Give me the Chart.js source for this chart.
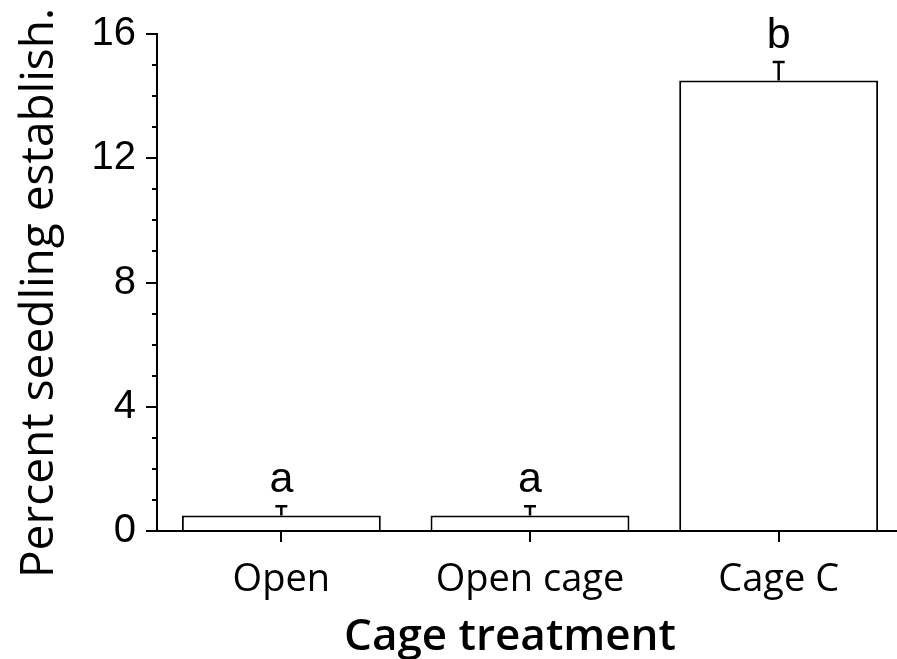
<!DOCTYPE html>
<html>
<head>
<meta charset="utf-8">
<script src="https://cdn.jsdelivr.net/npm/chart.js@4"></script>
<style>
  html, body { margin: 0; padding: 0; background: #fff; overflow: hidden; }
  canvas { display: block; }
</style>
</head>
<body>
<canvas id="chart" width="903" height="659"></canvas>
<script>
const categories = ["Open", "Open cage", "Cage C"];
const means = [0.5, 0.5, 14.5];
const errors = [0.3, 0.3, 0.6];
const letters = ["a", "a", "b"];
const yTitle = "Percent seedling establish.";
const xTitle = "Cage treatment";

// error bars + significance letters, drawn through the scales
let errorBars = {
    id: 'errorBars',
    afterDatasetsDraw(chart) {
        const ctx = chart.ctx;
        const yScale = chart.scales.y;
        const meta = chart.getDatasetMeta(0);
        ctx.save();
        ctx.strokeStyle = '#000';
        ctx.lineWidth = 2.5;
        meta.data.forEach(function(bar, i) {
            let yBar = yScale.getPixelForValue(means[i]);
            let yTop = yScale.getPixelForValue(means[i] + errors[i]);
            ctx.beginPath();
            ctx.moveTo(bar.x, yBar);
            ctx.lineTo(bar.x, yTop);
            ctx.moveTo(bar.x - 6, yTop);
            ctx.lineTo(bar.x + 6, yTop);
            ctx.stroke();
            ctx.fillStyle = '#000';
            ctx.font = '43px "Liberation Sans", Arial, sans-serif';
            ctx.textAlign = 'center';
            ctx.textBaseline = 'alphabetic';
            ctx.fillText(letters[i], bar.x, yTop - 14);
        });
        ctx.restore();
    }
};

// axis titles
let axisTitles = {
    id: 'axisTitles',
    afterDraw(chart) {
        const ctx = chart.ctx;
        ctx.save();
        ctx.fillStyle = '#000';
        ctx.textAlign = 'center';
        ctx.textBaseline = 'alphabetic';
        ctx.font = '46px "Open Sans", sans-serif';
        ctx.translate(53, 293);
        ctx.rotate(-Math.PI / 2);
        ctx.fillText(yTitle, 0, 0);
        ctx.restore();

        ctx.save();
        ctx.fillStyle = '#000';
        ctx.textAlign = 'center';
        ctx.textBaseline = 'alphabetic';
        ctx.font = '600 44px "Open Sans", sans-serif';
        ctx.fillText(xTitle, 510, 650);
        ctx.restore();
    }
};

let chartCanva = document.getElementById("chart");
let seedChart = new Chart(chartCanva, {
    type: 'bar',
    data: {
        labels: categories,
        datasets: [
            {
                data: means,
                backgroundColor: '#fff',
                borderColor: '#000',
                borderWidth: 2,
                categoryPercentage: 1,
                barPercentage: 0.8
            }]
    },
    options: {
        responsive: false,
        animation: false,
        devicePixelRatio: 1,
        layout: {
            padding: { top: 34, left: 0, right: 0, bottom: 0 }
        },
        plugins: {
            legend: { display: false },
            tooltip: { enabled: false }
        },
        scales: {
            x: {
                afterFit: function(scale) { scale.height = 128; },
                border: { display: true, color: '#000', width: 2 },
                grid: {
                    drawOnChartArea: false,
                    offset: false,
                    color: '#000',
                    lineWidth: 2,
                    tickLength: 11
                },
                ticks: {
                    color: '#000',
                    padding: 15,
                    font: { family: '"Open Sans", sans-serif', size: 38 }
                }
            },
            y: {
                min: 0,
                max: 16,
                afterFit: function(scale) { scale.width = 157; },
                border: { display: true, color: '#000', width: 2 },
                grid: {
                    drawOnChartArea: false,
                    color: '#000',
                    lineWidth: 2,
                    tickLength: 11,
                    tickBorderDash: function(c) {
                        return (c.tick && c.tick.value % 4 === 0) ? [] : [0, 6, 20];
                    }
                },
                ticks: {
                    stepSize: 1,
                    autoSkip: false,
                    color: '#000',
                    padding: 10,
                    font: { family: '"Liberation Sans", Arial, sans-serif', size: 40 },
                    callback: function(value) {
                        return value % 4 === 0 ? value : '';
                    }
                }
            }
        }
    },
    plugins: [errorBars, axisTitles]
});
</script>
</body>
</html>
